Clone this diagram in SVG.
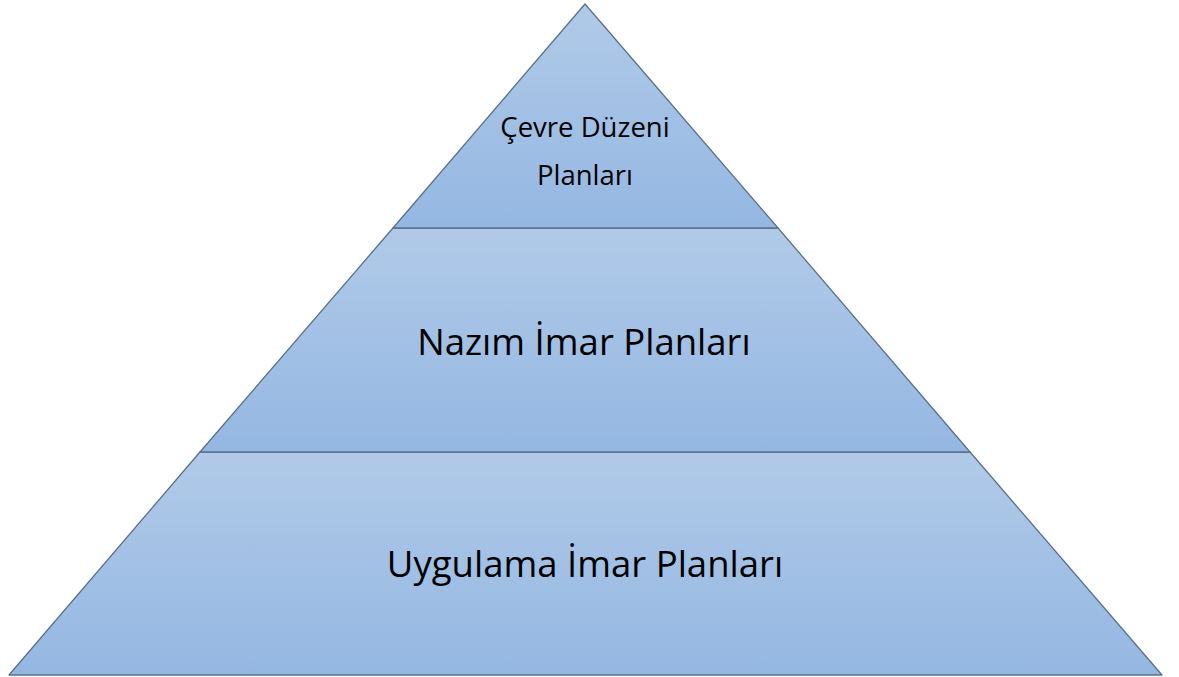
<svg xmlns="http://www.w3.org/2000/svg" width="1179" height="677" viewBox="0 0 1179 677">
<defs>
<linearGradient id="g" x1="0" y1="0" x2="0" y2="1">
<stop offset="0" stop-color="#b1cae8"/>
<stop offset="1" stop-color="#94b7e2"/>
</linearGradient>
<style>
.tier{fill:url(#g);stroke:#5a718a;stroke-width:1.3;stroke-linejoin:round}
.t{font-family:"Open Sans",Lato,sans-serif;fill:#000;text-anchor:middle}
</style>
</defs>
<rect width="1179" height="677" fill="#fff"/>
<g id="tier3">
<polygon class="tier" points="200,452 970,452 1162,675 9,675"/>
<text class="t" x="585" y="577" font-size="36.5">Uygulama İmar Planları</text>
</g>
<g id="tier2">
<polygon class="tier" points="393,228 778,228 970,452 200,452"/>
<text class="t" x="584" y="355" font-size="36.5">Nazım İmar Planları</text>
</g>
<g id="tier1">
<polygon class="tier" points="585,4 778,228 393,228"/>
<text class="t" x="585" y="137" font-size="27.5">Çevre Düzeni</text>
<text class="t" x="585" y="185" font-size="27.5">Planları</text>
</g>
</svg>
